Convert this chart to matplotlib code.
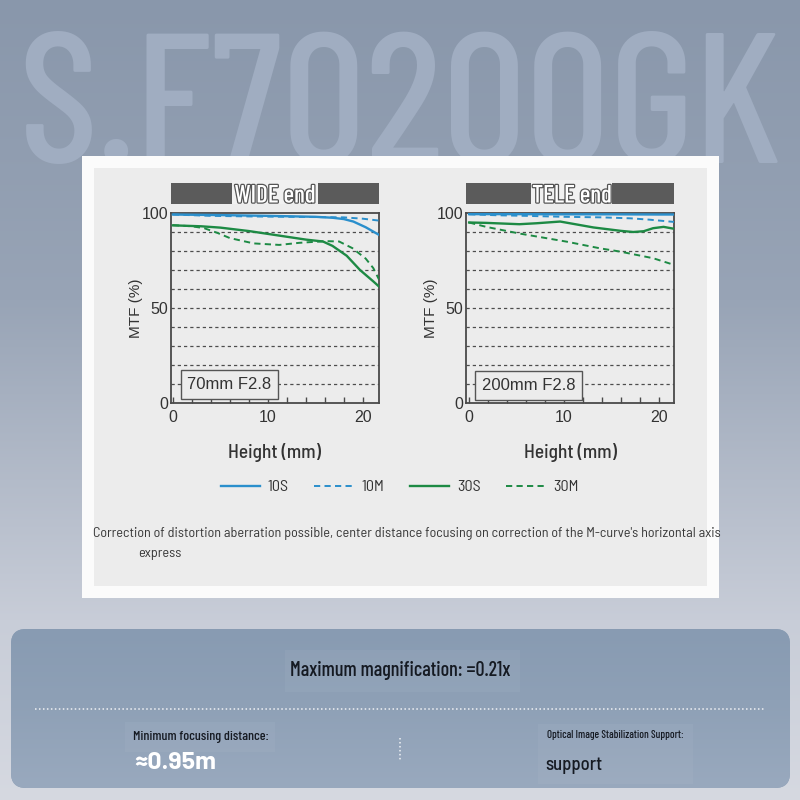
import numpy as np
import matplotlib
matplotlib.use("Agg")
import matplotlib.pyplot as plt
from matplotlib.patches import Rectangle, FancyBboxPatch
import matplotlib.patheffects as pe

# ---------------- data ----------------
watermark = "S.F70200GK"
panel_titles = ["WIDE end", "TELE end"]
panel_boxes = ["70mm F2.8", "200mm F2.8"]
series_names = ["10S", "10M", "30S", "30M"]
x_ticks = [0, 10, 20]
y_ticks = [0, 50, 100]

wide_10s_h = [0, 5, 10, 15, 16.8, 18, 19, 20.3, 21, 21.7]
wide_10s_v = [99.2, 98.9, 98.5, 98.0, 97.5, 96.8, 95.5, 92.5, 90.5, 88.5]
wide_10m_h = [0, 4, 8, 12, 16, 18, 20, 21.7]
wide_10m_v = [99.2, 98.5, 98.2, 98.0, 97.8, 97.7, 97.0, 96.0]
wide_30s_h = [0, 3, 5, 8, 10, 12, 14, 15.8, 16.8, 18.3, 19.7, 21.1, 21.7]
wide_30s_v = [93.5, 93.0, 92.3, 90.5, 89.0, 87.5, 86.0, 85.0, 82.7, 77.5, 70.0, 64.0, 61.3]
wide_30m_h = [0, 2, 3.3, 4.7, 6, 8.5, 11.2, 13.3, 16.1, 17.5, 18.9, 20.3, 21.1, 21.7]
wide_30m_v = [93.6, 93.0, 92.0, 89.5, 86.8, 84.0, 83.2, 84.3, 85.2, 85.0, 81.5, 76.0, 71.0, 65.0]

tele_10s_h = [0, 5, 10, 15, 20, 21.6]
tele_10s_v = [99.4, 99.4, 99.3, 99.3, 99.2, 99.2]
tele_10m_h = [0, 3, 6, 10, 14, 17, 19, 21.6]
tele_10m_v = [99.3, 98.8, 98.5, 98.0, 97.7, 97.2, 96.5, 95.3]
tele_30s_h = [0, 1.8, 5.3, 7.1, 9.6, 11.3, 13.1, 16.0, 17.3, 18.4, 19.4, 20.5, 21.6]
tele_30s_v = [95.0, 94.8, 94.1, 94.6, 95.5, 94.0, 92.4, 90.6, 90.0, 90.4, 92.0, 92.7, 91.7]
tele_30m_h = [0, 1.8, 5.3, 10.3, 13.8, 15.9, 19.4, 21.6]
tele_30m_v = [95.0, 92.7, 89.2, 84.9, 81.4, 79.7, 76.2, 72.7]

caption_1 = ("Correction of distortion aberration possible, center distance focusing "
             "on correction of the M-curve's horizontal axis")
caption_2 = "express"
spec_magnification = "Maximum magnification: =0.21x"
spec_focus_label = "Minimum focusing distance:"
spec_focus_value = "≈0.95m"
spec_ois_label = "Optical Image Stabilization Support:"
spec_ois_value = "support"

# ---------------- style ----------------
COND = ["Barlow Condensed", "DejaVu Sans"]
SEMI = ["Barlow Semi Condensed", "DejaVu Sans"]
WIDE_F = ["Barlow", "DejaVu Sans"]
SANS = ["Liberation Sans", "DejaVu Sans"]
BLUE = "#2a8fcc"
GREEN = "#1d8a44"
DASH = (0, (3.2, 2.2))

fig = plt.figure(figsize=(8, 8), dpi=100)

# background axes in pixel coordinates
bg = fig.add_axes([0, 0, 1, 1])
bg.axis("off")

stops_y = [0, 300, 620, 800]
stops_c = np.array([[137, 151, 171], [152, 164, 182], [200, 205, 216], [214, 217, 225]]) / 255.0
ys = np.arange(800)
grad = np.stack([np.interp(ys, stops_y, stops_c[:, k]) for k in range(3)], axis=1)
bg.imshow(grad[:, None, :], extent=[0, 800, 800, 0], aspect="auto", zorder=0)

# watermark
bg.text(400, 163, watermark, family=COND, fontsize=134, fontweight="medium", color="#a0adc1",
        ha="center", va="baseline", zorder=1)

# white card and inner gray panel
bg.add_patch(Rectangle((82, 156), 637, 442, facecolor="#fbfbfb", edgecolor="none", zorder=2))
bg.add_patch(Rectangle((94, 168), 613, 418, facecolor="#ececec", edgecolor="none", zorder=3))

# title bars
bars = [((171, 232, 318, 379), 275), ((466, 531, 612, 674), 572)]
for (l0, l1, r0, r1), cx in bars:
    bg.add_patch(Rectangle((l0, 183), l1 - l0, 21, facecolor="#5b5b5b", edgecolor="none", zorder=4))
    bg.add_patch(Rectangle((r0, 183), r1 - r0, 21, facecolor="#5b5b5b", edgecolor="none", zorder=4))
    bg.add_patch(Rectangle((l1, 180), r0 - l1, 24, facecolor="#f1f1f1", edgecolor="none", zorder=4))
for title, (_, cx) in zip(panel_titles, bars):
    bg.text(cx, 196, title, family=COND, fontsize=18, fontweight="medium", color="white",
            ha="center", va="center", zorder=5,
            path_effects=[pe.withStroke(linewidth=1.8, foreground="#555555")])

# captions
bg.text(93, 534, caption_1, family=SEMI, fontsize=10.2, color="#383838", ha="left", va="center", zorder=5)
bg.text(138, 554, caption_2, family=SEMI, fontsize=10.2, color="#383838", ha="left", va="center", zorder=5)

# bottom info panel
panel = FancyBboxPatch((11, 629), 779, 159, boxstyle="round,pad=0,rounding_size=15",
                       facecolor="#8c9fb6", edgecolor="none", zorder=3)
bg.add_patch(panel)
pstops_y = [629, 700, 788]
pstops_c = np.array([[136, 155, 178], [142, 160, 182], [153, 169, 190]]) / 255.0
pys = np.arange(629, 789)
pgrad = np.stack([np.interp(pys, pstops_y, pstops_c[:, k]) for k in range(3)], axis=1)
im = bg.imshow(pgrad[:, None, :], extent=[11, 790, 788, 629], aspect="auto", zorder=3.5)
im.set_clip_path(panel)
bg.set_xlim(0, 800)
bg.set_ylim(800, 0)

for (x0, y0, w, h) in [(285, 650, 235, 42), (125, 722, 150, 30), (538, 724, 155, 60)]:
    bg.add_patch(Rectangle((x0, y0), w, h, facecolor="white", alpha=0.045, edgecolor="none", zorder=4))

bg.plot([35, 765], [709, 709], color="white", lw=1.1, ls=(0, (1, 1.6)), alpha=0.85, zorder=5)
bg.plot([400, 400], [738, 760], color="white", lw=1.1, ls=(0, (1, 1.6)), alpha=0.85, zorder=5)

bg.text(400, 671, spec_magnification, family=COND, fontsize=14.5, fontweight="medium",
        color="#151a22", ha="center", va="center", zorder=6)
bg.text(133, 737, spec_focus_label, family=COND, fontsize=10, fontweight="medium",
        color="#151a22", ha="left", va="center", zorder=6)
bg.text(134, 763, spec_focus_value, family=WIDE_F, fontsize=18, fontweight="bold", color="white",
        ha="left", va="center", zorder=6)
bg.text(547, 735, spec_ois_label, family=COND, fontsize=7.9, fontweight="medium",
        color="#151a22", ha="left", va="center", zorder=6)
bg.text(545, 765, spec_ois_value, family=SEMI, fontsize=13.5, fontweight="medium",
        color="#151a22", ha="left", va="center", zorder=6)

# ---------------- MTF axes ----------------
panels = [
    ([171, 403, 208, 190], [(wide_10s_h, wide_10s_v), (wide_10m_h, wide_10m_v),
                            (wide_30s_h, wide_30s_v), (wide_30m_h, wide_30m_v)], (0.281, 0.097), (-0.2, 21.7)),
    ([466, 403, 208, 190], [(tele_10s_h, tele_10s_v), (tele_10m_h, tele_10m_v),
                            (tele_30s_h, tele_30s_v), (tele_30m_h, tele_30m_v)], (0.30, 0.092), (-0.33, 21.6)),
]
styles = [(BLUE, "-", 1.7), (BLUE, DASH, 1.4), (GREEN, "-", 1.7), (GREEN, DASH, 1.4)]

handles = []
for idx, ((left, bottom, w, h), series, boxpos, xl) in enumerate(panels):
    ax = fig.add_axes([left / 800, 1 - bottom / 800, w / 800, h / 800])
    ax.set_facecolor("#ececec")
    ax.set_xlim(*xl)
    ax.set_ylim(0, 100)
    for gy in range(10, 100, 10):
        ax.axhline(gy, color="#4d4d4d", lw=0.9, ls=(0, (2.6, 2.4)), zorder=1)
    for (hx, vy), (c, ls, lw), name in zip(series, styles, series_names):
        ln, = ax.plot(hx, vy, color=c, ls=ls, lw=lw, zorder=3, label=name)
        if idx == 0:
            handles.append(ln)
    for s in ax.spines.values():
        s.set_color("#4a4a4a")
        s.set_linewidth(1.3)
    ax.set_xticks(x_ticks)
    ax.set_xticks(np.arange(2, 22, 2), minor=True)
    ax.set_yticks(y_ticks)
    ax.set_xticklabels([str(t) for t in x_ticks], family=SANS, fontsize=11.5, color="#333333")
    ax.set_yticklabels([str(t) for t in y_ticks], family=SANS, fontsize=11.5, color="#333333")
    ax.tick_params(axis="x", which="both", direction="in", length=4, width=1, color="#4a4a4a", pad=5)
    ax.tick_params(axis="y", length=0, pad=2)
    ax.set_ylabel("MTF (%)", family=SANS, fontsize=11, color="#333333")
    ax.yaxis.set_label_coords(-0.168, 0.5)
    ax.yaxis.label.set_va("center")
    ax.set_xlabel("Height (mm)", family=SEMI, fontsize=14, fontweight="medium", color="#333333")
    ax.xaxis.set_label_coords(0.5, -0.258)
    ax.xaxis.label.set_va("center")
    ax.text(boxpos[0], boxpos[1], panel_boxes[idx], transform=ax.transAxes, family=SANS,
            fontsize=12, color="#333333", ha="center", va="center", zorder=5,
            bbox=dict(boxstyle="square,pad=0.4", facecolor="#ececec", edgecolor="#555555", lw=1))

leg = fig.legend(handles, series_names, loc="center", bbox_to_anchor=(0.4995, 1 - 487 / 800),
                 ncol=4, frameon=False, handlelength=2.45, handletextpad=0.5, columnspacing=1.6,
                 prop={"family": SEMI, "size": 11.5})
for t in leg.get_texts():
    t.set_color("#333333")

fig.savefig("out.png", dpi=100)
